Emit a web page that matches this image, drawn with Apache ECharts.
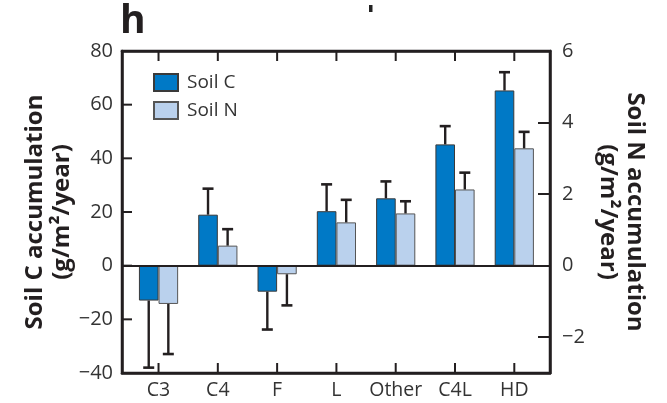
<!DOCTYPE html>
<html>
<head>
<meta charset="utf-8">
<script src="https://cdn.jsdelivr.net/npm/echarts@6/dist/echarts.min.js"></script>
<style>
  html, body { margin: 0; padding: 0; background: #fff; }
  #chart { width: 667px; height: 403px; }
</style>
</head>
<body>
<div id="chart"></div>
<script>
// Land-use categories
const categories = ['C3', 'C4', 'F', 'L', 'Other', 'C4L', 'HD'];

// Soil C accumulation (g/m2/year) and its one-sided error
const soilC = [-13.0, 19.0, -9.7, 20.3, 25.1, 45.2, 65.3];
const soilCErr = [25.0, 9.7, 14.1, 10.0, 6.3, 6.8, 6.8];

// Soil N accumulation (g/m2/year) and its one-sided error
const soilN = [-1.07, 0.56, -0.24, 1.21, 1.46, 2.13, 3.28];
const soilNErr = [1.40, 0.46, 0.87, 0.63, 0.34, 0.47, 0.46];

// Axis ranges and tick labels
const cTicks = [-40, -20, 0, 20, 40, 60, 80];
const nTicks = [-2, 0, 2, 4, 6];
const cRange = [-40, 80];
const nRange = [-3, 6];
// category slots sit at 0..6; the frame leaves a little extra room at each end
const xRange = [-0.616, 6.602];

const FONT = '"Open Sans", "Noto Sans", sans-serif';
const INK = '#231f20';
const LABEL = '#333';
const BAR_W = 19.6;
const TICK_LEN = 10;
const minus = v => String(v).replace('-', '\u2212');
const slots = categories.map((c, i) => i);

const chart = echarts.init(document.getElementById('chart'), null, { renderer: 'canvas' });

// one-sided error whisker with a cap, drawn over the matching bar
function errorBars(shift) {
  return function (params, api) {
    const i = api.value(0);
    const v = api.value(1);
    const e = api.value(2);
    const end = v >= 0 ? v + e : v - e;
    const p0 = api.coord([i, v]);
    const p1 = api.coord([i, end]);
    const x = p0[0] + shift;
    return {
      type: 'group',
      children: [
        { type: 'line', shape: { x1: x, y1: p0[1], x2: x, y2: p1[1] },
          style: { stroke: INK, lineWidth: 2.4 } },
        { type: 'line', shape: { x1: x - 5.5, y1: p1[1], x2: x + 5.5, y2: p1[1] },
          style: { stroke: INK, lineWidth: 2.6 } }
      ]
    };
  };
}

const tickStyle = { color: INK, width: 2 };

const option = {
  animation: false,
  backgroundColor: '#fff',
  textStyle: { fontFamily: FONT },
  title: {
    text: 'h',
    left: 120,
    top: 2,
    padding: 0,
    textStyle: { fontFamily: FONT, fontSize: 39, fontWeight: 'bold', color: INK }
  },
  legend: {
    orient: 'vertical',
    left: 153,
    top: 73,
    padding: 0,
    itemWidth: 24,
    itemHeight: 17,
    itemGap: 9,
    icon: 'rect',
    data: ['Soil C', 'Soil N'],
    textStyle: { fontFamily: FONT, fontSize: 19, color: LABEL, padding: [0, 0, 0, 4] }
  },
  grid: {
    left: 122, right: 117, top: 51, bottom: 30,
    outerBoundsMode: 'none',
    show: true, borderColor: INK, borderWidth: 2.5, backgroundColor: 'transparent'
  },
  xAxis: [
    { type: 'value', position: 'bottom', min: xRange[0], max: xRange[1], z: 10,
      axisLine: { show: true, onZero: false, lineStyle: { color: INK, width: 2.5 } },
      axisTick: { show: false },
      axisLabel: { fontFamily: FONT, fontSize: 19.5, color: LABEL, margin: 7,
                   customValues: slots, formatter: v => categories[Math.round(v)] },
      splitLine: { show: false } },
    { type: 'value', position: 'top', min: xRange[0], max: xRange[1], z: 10,
      axisLine: { show: true, onZero: false, lineStyle: { color: INK, width: 2.5 } },
      axisTick: { show: false },
      axisLabel: { show: false },
      splitLine: { show: false } }
  ],
  yAxis: [
    { type: 'value', position: 'left', min: cRange[0], max: cRange[1], z: 10,
      name: 'Soil C accumulation\n(g/m\u00b2/year)',
      nameLocation: 'middle', nameRotate: 90, nameGap: 46, nameMoveOverlap: false,
      nameTextStyle: { fontFamily: FONT, fontSize: 24, fontWeight: 'bold', color: INK, lineHeight: 27 },
      axisLine: { show: true, onZero: false, lineStyle: { color: INK, width: 2.5 } },
      axisTick: { show: false },
      axisLabel: { fontFamily: FONT, fontSize: 20, color: LABEL, margin: 9,
                   customValues: cTicks, formatter: minus },
      splitLine: { show: false } },
    { type: 'value', position: 'right', min: nRange[0], max: nRange[1], z: 10,
      name: 'Soil N accumulation\n(g/m\u00b2/year)',
      nameLocation: 'middle', nameRotate: -90, nameGap: 44, nameMoveOverlap: false,
      nameTextStyle: { fontFamily: FONT, fontSize: 24, fontWeight: 'bold', color: INK, lineHeight: 27 },
      axisLine: { show: true, onZero: false, lineStyle: { color: INK, width: 2.5 } },
      axisTick: { show: true, inside: true, length: 12, customValues: nTicks, lineStyle: tickStyle },
      axisLabel: { fontFamily: FONT, fontSize: 20, color: LABEL, margin: 12,
                   customValues: nTicks, formatter: minus },
      splitLine: { show: false } }
  ],
  series: [
    { name: 'Soil C', type: 'bar', xAxisIndex: 0, yAxisIndex: 0,
      data: slots.map(i => [i, soilC[i]]),
      barWidth: BAR_W, barGap: '0%',
      itemStyle: { color: '#0079c6', borderColor: '#3a3a3a', borderWidth: 1 },
      markLine: {
        silent: true, symbol: 'none', label: { show: false },
        lineStyle: { color: INK, width: 2.2, type: 'solid' },
        data: [{ yAxis: 0 }]
      } },
    { name: 'Soil N', type: 'bar', xAxisIndex: 0, yAxisIndex: 1,
      data: slots.map(i => [i, soilN[i]]),
      barWidth: BAR_W, barGap: '0%',
      itemStyle: { color: '#bad1ed', borderColor: '#555', borderWidth: 1 } },
    { name: 'Soil C error', type: 'custom', xAxisIndex: 0, yAxisIndex: 0,
      data: slots.map(i => [i, soilC[i], soilCErr[i]]),
      renderItem: errorBars(-BAR_W / 2), z: 3 },
    { name: 'Soil N error', type: 'custom', xAxisIndex: 0, yAxisIndex: 1,
      data: slots.map(i => [i, soilN[i], soilNErr[i]]),
      renderItem: errorBars(BAR_W / 2), z: 3 }
  ]
};

chart.setOption(option);

// Inward tick marks on the left, top and bottom edges of the frame,
// placed through the chart's own coordinate conversion.
const toPx = (x, y) => chart.convertToPixel({ xAxisIndex: 0, yAxisIndex: 0 }, [x, y]);
const edgeTicks = [
  // small mark left over from the neighbouring panel
  { type: 'rect', id: 'stray', left: 369, top: 5, shape: { width: 3.5, height: 7 },
    style: { fill: '#222' }, z: 100 }
];
cTicks.forEach((v, k) => {
  const p = toPx(xRange[0], v);
  edgeTicks.push({ type: 'line', id: 'lt' + k, z: 100,
    shape: { x1: p[0], y1: p[1], x2: p[0] + TICK_LEN, y2: p[1] },
    style: { stroke: INK, lineWidth: 2 } });
});
slots.forEach(i => {
  const t = toPx(i, cRange[1]);
  const b = toPx(i, cRange[0]);
  edgeTicks.push({ type: 'line', id: 'tt' + i, z: 100,
    shape: { x1: t[0], y1: t[1], x2: t[0], y2: t[1] + TICK_LEN },
    style: { stroke: INK, lineWidth: 2 } });
  edgeTicks.push({ type: 'line', id: 'bt' + i, z: 100,
    shape: { x1: b[0], y1: b[1], x2: b[0], y2: b[1] - TICK_LEN },
    style: { stroke: INK, lineWidth: 2 } });
});
chart.setOption({ graphic: edgeTicks });
</script>
</body>
</html>
